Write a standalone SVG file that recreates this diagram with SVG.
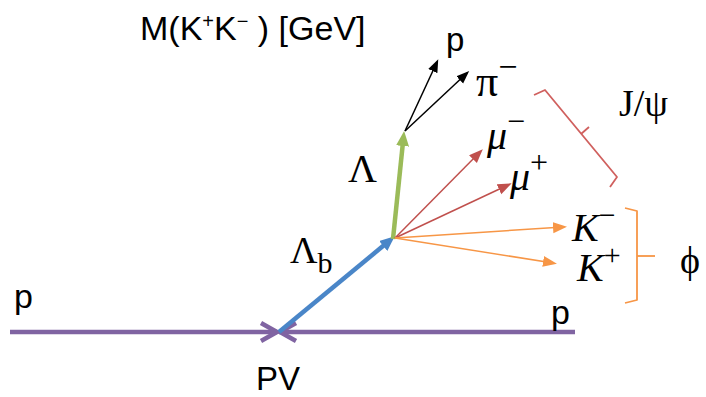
<svg xmlns="http://www.w3.org/2000/svg" width="706" height="397" viewBox="0 0 706 397">
<style>
.sans{font-family:"Liberation Sans",Arial,sans-serif;fill:#000}
.ser{font-family:"Liberation Serif","DejaVu Serif",serif;fill:#000}
.it{font-style:italic}
.up{font-style:normal}
.thick{fill:none;stroke-width:4.5;stroke-linecap:butt}
.thin{fill:none;stroke-width:1.5}
.brk{fill:none;stroke-width:1.8;stroke-linejoin:round}
</style>
<defs>
<marker id="hBlue" markerUnits="userSpaceOnUse" markerWidth="16" markerHeight="14" refX="6" refY="6.5" orient="auto"><path d="M0,0 L15,6.5 L0,13 z" fill="#4A86C8"/></marker>
<marker id="hGreen" markerUnits="userSpaceOnUse" markerWidth="16" markerHeight="14" refX="6" refY="6.5" orient="auto"><path d="M0,0 L15,6.5 L0,13 z" fill="#9BBB59"/></marker>
<marker id="hBlack" markerUnits="userSpaceOnUse" markerWidth="14" markerHeight="11" refX="10" refY="5" orient="auto"><path d="M0,0 L13,5 L0,10 z" fill="#000"/></marker>
<marker id="hRed" markerUnits="userSpaceOnUse" markerWidth="15" markerHeight="12" refX="10" refY="5.5" orient="auto"><path d="M0,0 L14,5.5 L0,11 z" fill="#C0504D"/></marker>
<marker id="hOrange" markerUnits="userSpaceOnUse" markerWidth="15" markerHeight="12" refX="10" refY="5.5" orient="auto"><path d="M0,0 L14,5.5 L0,11 z" fill="#F79646"/></marker>
</defs>

<g id="title"><text class="sans" x="140" y="40" font-size="34">M(K<tspan font-size="20" dy="-12">+</tspan><tspan dy="12">K</tspan><tspan font-size="20" dy="-12">−</tspan><tspan dy="12"> ) [GeV]</tspan></text></g>

<g id="connectors">
<line id="beam-left" class="thick" x1="10" y1="332" x2="277" y2="332" stroke="#8064A2"/>
<line id="beam-right" class="thick" x1="575" y1="332" x2="279" y2="332" stroke="#8064A2"/>
<polyline class="thick" points="261,323 277,332 261,341" stroke="#8064A2" stroke-width="3.5"/>
<polyline class="thick" points="296,323 280,332 296,341" stroke="#8064A2" stroke-width="3.5"/>
<line id="lambdab" class="thick" x1="279" y1="332" x2="387.8" y2="242.1" stroke="#4A86C8" marker-end="url(#hBlue)"/>
<line id="lambda" class="thick" x1="393" y1="239" x2="403.2" y2="140" stroke="#9BBB59" marker-end="url(#hGreen)"/>
<line class="thin" x1="405" y1="131" x2="437" y2="62" stroke="#000" marker-end="url(#hBlack)"/>
<line class="thin" x1="405" y1="131" x2="467" y2="73" stroke="#000" marker-end="url(#hBlack)"/>
<line class="thin" x1="395" y1="238" x2="480" y2="152" stroke="#C0504D" marker-end="url(#hRed)"/>
<line class="thin" x1="395" y1="238" x2="508" y2="185" stroke="#C0504D" marker-end="url(#hRed)"/>
<line class="thin" x1="395" y1="238" x2="563" y2="227" stroke="#F79646" marker-end="url(#hOrange)"/>
<line class="thin" x1="395" y1="238" x2="553" y2="263" stroke="#F79646" marker-end="url(#hOrange)"/>
<polyline class="brk" points="534,95 545,90 617,177 610,187" stroke="#D0605E"/>
<line class="brk" x1="581" y1="134" x2="589" y2="127" stroke="#D0605E"/>
<polyline class="brk" points="625,208 637,211 637,300 625,303" stroke="#F79646"/>
<line class="brk" x1="637" y1="256" x2="655" y2="256" stroke="#F79646"/>
</g>

<g id="labels">
<text class="sans" x="14" y="308" font-size="34">p</text>
<text class="sans" x="551" y="324" font-size="34">p</text>
<text class="sans" x="256" y="390" font-size="33">PV</text>
<text class="sans" x="446" y="51" font-size="33">p</text>
<text class="ser" x="476" y="96" font-size="44">π<tspan font-size="34" dy="-18">−</tspan></text>
<text class="ser it" x="487" y="149" font-size="40">μ<tspan class="up" font-size="32" dy="-17">−</tspan></text>
<text class="ser it" x="510" y="190" font-size="40">μ<tspan class="up" font-size="32" dy="-17">+</tspan></text>
<text class="ser it" x="572" y="241" font-size="40">K<tspan class="up" font-size="30" dy="-16">−</tspan></text>
<text class="ser it" x="577" y="281" font-size="40">K<tspan class="up" font-size="30" dy="-16">+</tspan></text>
<text class="ser" x="619" y="116" font-size="38">J/ψ</text>
<text class="ser" x="680" y="273" font-size="38">ϕ</text>
<text class="ser" x="348" y="182" font-size="40">Λ</text>
<text class="ser" x="290" y="263" font-size="38">Λ<tspan font-size="30" dy="10">b</tspan></text>
</g>
</svg>
